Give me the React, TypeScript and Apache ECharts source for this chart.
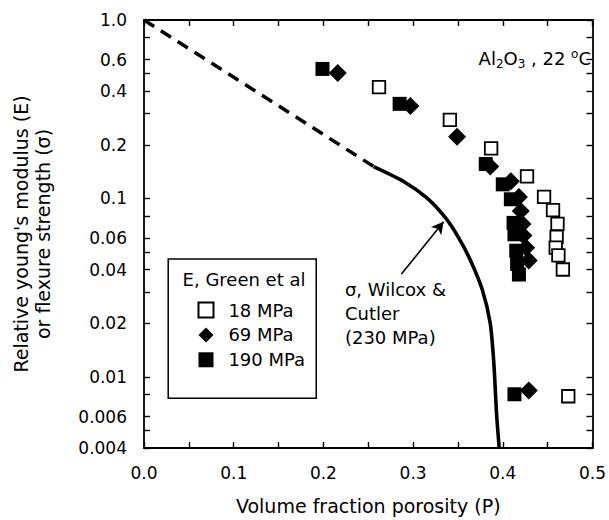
import React, { useEffect, useRef } from 'react';
import * as echarts from 'echarts';

const FONT = '"DejaVu Sans", Verdana, "Liberation Sans", Arial, sans-serif';
const INK = '#000000';

// Relative Young's modulus E vs. volume fraction porosity P (Green et al), by test stress
const p18 = [0.262, 0.341, 0.387, 0.427, 0.446, 0.456, 0.461, 0.46, 0.459, 0.462, 0.467, 0.473];
const e18 = [0.421, 0.276, 0.191, 0.133, 0.102, 0.086, 0.072, 0.061, 0.053, 0.048, 0.04, 0.0078];

const p69 = [0.216, 0.297, 0.349, 0.386, 0.409, 0.418, 0.42, 0.422, 0.423, 0.426, 0.429, 0.429];
const e69 = [0.505, 0.33, 0.222, 0.151, 0.125, 0.102, 0.085, 0.072, 0.062, 0.053, 0.045, 0.0084];

const p190 = [0.199, 0.285, 0.381, 0.4, 0.409, 0.412, 0.413, 0.415, 0.416, 0.418, 0.413];
const e190 = [0.532, 0.339, 0.156, 0.12, 0.099, 0.073, 0.063, 0.051, 0.043, 0.0375, 0.008];

// Flexure strength, Wilcox & Cutler (230 MPa): extrapolated segment, then measured curve
const sigmaDashP = [0, 0.256];
const sigmaDashS = [1.0, 0.151];
const sigmaP = [0.256, 0.289, 0.315, 0.336, 0.351, 0.364, 0.377, 0.386, 0.39, 0.393, 0.396];
const sigmaS = [0.151, 0.125, 0.101, 0.078, 0.06, 0.045, 0.031, 0.02, 0.012, 0.0063, 0.004];

// Arrow from the curve label to the curve
const arrowFrom = [0.287, 0.0377];
const arrowTo = [0.334, 0.074];

// Axis ticks and labels
const xLabelValues = [0, 0.1, 0.2, 0.3, 0.4, 0.5];
const xTickValues = [0, 0.05, 0.1, 0.15, 0.2, 0.25, 0.3, 0.35, 0.4, 0.45, 0.5];
const yLabelValues = [1, 0.6, 0.4, 0.2, 0.1, 0.06, 0.04, 0.02, 0.01, 0.006, 0.004];
const yLabelTexts = ['1.0', '0.6', '0.4', '0.2', '0.1', '0.06', '0.04', '0.02', '0.01', '0.006', '0.004'];
const yTickValues = [1, 0.8, 0.6, 0.5, 0.4, 0.3, 0.2, 0.1, 0.08, 0.06, 0.05, 0.04, 0.03, 0.02, 0.01, 0.008, 0.006, 0.005, 0.004];

const legendNames = ['18 MPa', '69 MPa', '190 MPa'];

const pairs = (xs: number[], ys: number[]) => xs.map((x, i) => [x, ys[i]]);

export default function App() {
  const ref = useRef<HTMLDivElement>(null);

  useEffect(() => {
    if (!ref.current) return;
    const chart = echarts.init(ref.current, undefined, { renderer: 'svg' });

    const lineStyle = { color: INK, width: 1.8 };
    const tickStyle = { color: INK, width: 1.4 };
    const yLabel = (v: number) => {
      let best = 0;
      yLabelValues.forEach((t, i) => {
        if (Math.abs(Math.log10(t / v)) < Math.abs(Math.log10(yLabelValues[best] / v))) best = i;
      });
      return yLabelTexts[best];
    };

    const xBase = {
      type: 'value',
      min: 0,
      max: 0.5,
      axisLine: { show: true, onZero: false, lineStyle },
      axisTick: { show: true, inside: true, length: 6, customValues: xTickValues, lineStyle: tickStyle },
      splitLine: { show: false },
    };
    const yBase = {
      type: 'log',
      logBase: 10,
      min: 0.004,
      max: 1,
      axisLine: { show: true, onZero: false, lineStyle },
      axisTick: { show: true, inside: true, length: 6, customValues: yTickValues, lineStyle: tickStyle },
      splitLine: { show: false },
      minorTick: { show: false },
    };

    chart.setOption({
      animation: false,
      textStyle: { fontFamily: FONT, color: INK },
      grid: { left: 144, right: 14, top: 20, bottom: 69 },
      xAxis: [
        {
          ...xBase,
          position: 'bottom',
          name: 'Volume fraction porosity (P)',
          nameLocation: 'middle',
          nameGap: 48,
          nameTextStyle: { fontSize: 19, color: INK, fontFamily: FONT },
          axisLabel: {
            customValues: xLabelValues,
            formatter: (v: number) => v.toFixed(1),
            fontSize: 17,
            color: INK,
            margin: 16,
            fontFamily: FONT,
          },
        },
        { ...xBase, position: 'top', axisLabel: { show: false } },
      ],
      yAxis: [
        {
          ...yBase,
          position: 'left',
          name: "Relative young's modulus (E)\nor flexure strength (\u03c3)",
          nameLocation: 'middle',
          nameRotate: 90,
          nameGap: 90,
          nameTextStyle: { fontSize: 19, lineHeight: 22, color: INK, fontFamily: FONT },
          axisLabel: {
            customValues: yLabelValues,
            formatter: yLabel,
            fontSize: 17,
            color: INK,
            margin: 17,
            fontFamily: FONT,
          },
        },
        { ...yBase, position: 'right', axisLabel: { show: false } },
      ],
      legend: {
        show: true,
        data: legendNames,
        orient: 'vertical',
        left: 0,
        top: 0,
        padding: 0,
        itemWidth: 15,
        itemHeight: 15,
        itemGap: 5,
        textStyle: { fontSize: 18, color: INK, fontFamily: FONT, lineHeight: 20 },
      },
      series: [
        {
          name: 'sigma extrapolated',
          type: 'line',
          data: pairs(sigmaDashP, sigmaDashS),
          showSymbol: false,
          symbol: 'none',
          lineStyle: { color: INK, width: 3.5, type: [12, 8] },
          z: 1,
        },
        {
          name: 'sigma',
          type: 'line',
          data: pairs(sigmaP, sigmaS),
          showSymbol: false,
          symbol: 'none',
          smooth: 0.25,
          lineStyle: { color: INK, width: 3.6 },
          z: 1,
          markLine: {
            silent: true,
            symbol: ['none', 'arrow'],
            symbolSize: [10, 12],
            label: { show: false },
            lineStyle: { color: INK, width: 1.6, type: 'solid' },
            data: [[{ coord: arrowFrom }, { coord: arrowTo }]],
          },
        },
        {
          name: '18 MPa',
          type: 'scatter',
          data: pairs(p18, e18),
          symbol: 'rect',
          symbolSize: 12.5,
          itemStyle: { color: '#ffffff', borderColor: INK, borderWidth: 1.8, opacity: 1 },
          z: 3,
        },
        {
          name: '190 MPa',
          type: 'scatter',
          data: pairs(p190, e190),
          symbol: 'rect',
          symbolSize: 14,
          itemStyle: { color: INK, opacity: 1 },
          z: 3,
        },
        {
          name: '69 MPa',
          type: 'scatter',
          data: pairs(p69, e69),
          symbol: 'diamond',
          symbolSize: 18,
          itemStyle: { color: INK, opacity: 1 },
          z: 4,
        },
      ],
    });

    const px = (x: number, y: number) =>
      chart.convertToPixel({ xAxisIndex: 0, yAxisIndex: 0 }, [x, y]) as number[];

    const boxA = px(0.027, 0.0458);
    const boxB = px(0.192, 0.0076);
    const head = px(0.043, 0.035);
    const row1 = px(0.068, 0.0237);
    const row2 = px(0.068, 0.0172);
    const textStart = px(0.093, 0.0237)[0];
    const pitch = row2[1] - row1[1];
    const itemH = 20;
    const legendLeft = row1[0] - 7.5;
    const curveText = px(0.224, 0.0227);
    const title = px(0.373, 0.605);

    chart.setOption({
      legend: {
        left: legendLeft,
        top: row1[1] - itemH / 2,
        itemGap: Math.max(0, pitch - itemH),
        textStyle: { padding: [0, 0, 0, Math.max(0, textStart - (legendLeft + 15 + 5))] },
      },
      graphic: [
        {
          type: 'rect',
          shape: { x: boxA[0], y: boxA[1], width: boxB[0] - boxA[0], height: boxB[1] - boxA[1] },
          style: { fill: 'rgba(0,0,0,0)', stroke: INK, lineWidth: 1.5 },
          z: 10,
        },
        {
          type: 'text',
          x: head[0],
          y: head[1],
          style: {
            text: 'E, Green et al',
            fontSize: 18,
            fontFamily: FONT,
            fill: INK,
            align: 'left',
            verticalAlign: 'middle',
          },
          z: 10,
        },
        {
          type: 'text',
          x: curveText[0],
          y: curveText[1],
          style: {
            text: '\u03c3, Wilcox &\nCutler\n(230 MPa)',
            fontSize: 18,
            lineHeight: 24,
            fontFamily: FONT,
            fill: INK,
            align: 'left',
            verticalAlign: 'middle',
          },
          z: 10,
        },
        {
          type: 'text',
          x: title[0],
          y: title[1],
          style: {
            text: '{n|Al}{s|2}{n|O}{s|3}{n| , 22 }{p|o}{n|C}',
            fontFamily: FONT,
            fill: INK,
            align: 'left',
            verticalAlign: 'middle',
            rich: {
              n: { fontSize: 18, lineHeight: 22, fontFamily: FONT, fill: INK },
              s: { fontSize: 12, lineHeight: 12, verticalAlign: 'bottom', fontFamily: FONT, fill: INK },
              p: { fontSize: 12, lineHeight: 12, verticalAlign: 'top', fontFamily: FONT, fill: INK },
            },
          },
          z: 10,
        },
      ],
    });

    return () => chart.dispose();
  }, []);

  return (
    <div
      ref={ref}
      style={{ position: 'fixed', left: 0, top: 0, width: 609, height: 520, background: '#ffffff' }}
    />
  );
}
